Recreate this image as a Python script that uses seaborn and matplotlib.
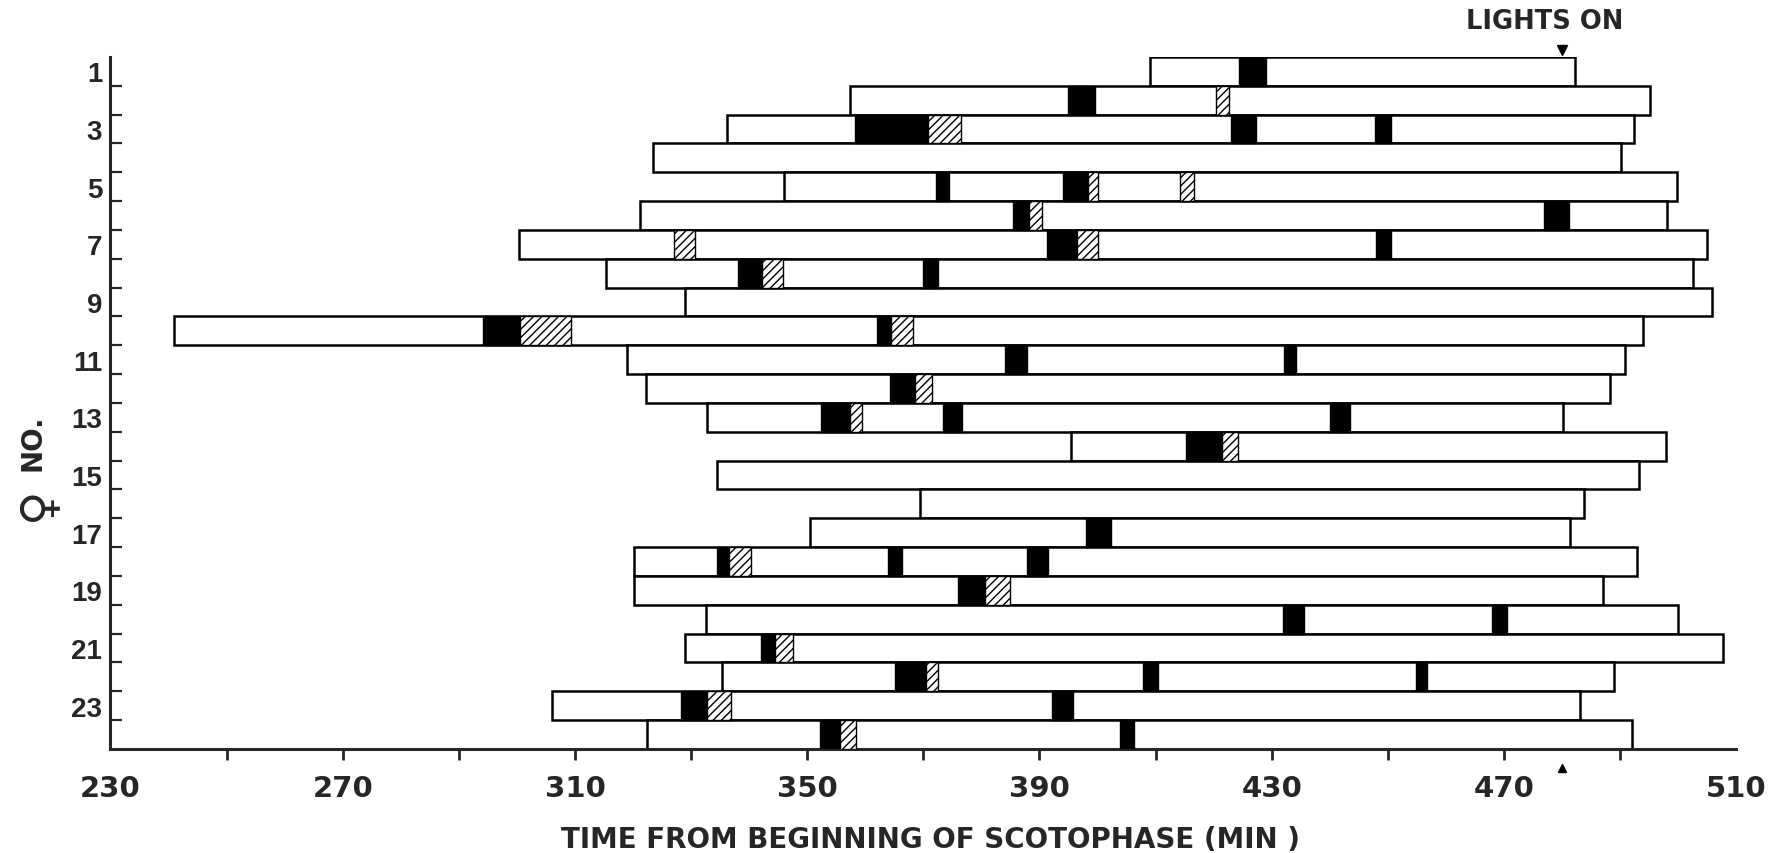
import matplotlib.pyplot as plt
import seaborn as sns
import pandas as pd

# female number and start / end of observation (min from beginning of scotophase)
female = list(range(1, 25))
obs_start = [409.0, 357.3, 336.1, 323.5, 346.0, 321.2, 300.3, 315.4, 329.0, 241.0,
             318.9, 322.3, 332.7, 395.5, 334.4, 369.4, 350.5, 320.2, 320.2, 332.5,
             329.0, 335.3, 306.1, 322.4]
obs_end = [482.2, 495.1, 492.4, 490.2, 499.8, 498.0, 504.9, 502.5, 505.8, 494.0,
           490.9, 488.3, 480.2, 497.9, 493.2, 483.8, 481.4, 492.9, 487.0, 499.9,
           507.7, 488.9, 483.1, 492.1]

# solid black blocks, per female
solid = [
    [(424.3, 429.1)],
    [(394.9, 399.5)],
    [(358.2, 370.8), (423.0, 427.3), (447.8, 450.6)],
    [],
    [(372.1, 374.4), (394.1, 398.4)],
    [(385.5, 388.2), (476.9, 481.2)],
    [(391.3, 396.4), (447.9, 450.5)],
    [(338.0, 342.2), (370.0, 372.6)],
    [],
    [(294.2, 300.6), (362.0, 364.4)],
    [(384.1, 387.9), (432.1, 434.2)],
    [(364.2, 368.5)],
    [(352.3, 357.4), (373.4, 376.6), (440.1, 443.5)],
    [(415.2, 421.4)],
    [],
    [],
    [(398.0, 402.4)],
    [(334.4, 336.5), (363.9, 366.4), (387.9, 391.4)],
    [(376.0, 380.6)],
    [(432.0, 435.5), (468.0, 470.6)],
    [(342.1, 344.5)],
    [(365.1, 370.5), (407.8, 410.4), (454.9, 456.7)],
    [(328.2, 332.8), (392.1, 395.7)],
    [(352.2, 355.6), (403.8, 406.2)],
]

# hatched blocks, per female
hatched = [
    [],
    [(420.4, 422.7)],
    [(370.8, 376.5)],
    [],
    [(398.4, 400.1), (414.2, 416.6)],
    [(388.2, 390.5)],
    [(327.1, 330.7), (396.4, 400.1)],
    [(342.2, 345.8)],
    [],
    [(300.6, 309.4), (364.4, 368.3)],
    [],
    [(368.5, 371.5)],
    [(357.4, 359.4)],
    [(421.4, 424.2)],
    [],
    [],
    [],
    [(336.5, 340.4)],
    [(380.6, 385.0)],
    [],
    [(344.5, 347.5)],
    [(370.5, 372.5)],
    [(332.8, 336.8)],
    [(355.6, 358.4)],
]

x_labels = [230, 270, 310, 350, 390, 430, 470, 510]
x_minor = [250, 270, 290, 310, 330, 350, 370, 390, 410, 430, 450, 470, 490]
lights_on = 480

sns.set_style('ticks')
plt.rcParams['font.family'] = ['DejaVu Sans']
plt.rcParams['hatch.linewidth'] = 1.0

fig = plt.figure(figsize=(17.82, 8.54), dpi=100)
ax = fig.add_axes([0.0620, 0.1218, 0.9123, 0.8103])

df = pd.DataFrame({'female': female,
                   'duration': [e - s for s, e in zip(obs_start, obs_end)]})
sns.barplot(data=df, x='duration', y='female', orient='y', native_scale=True,
            width=1.0, left=obs_start, color='white', saturation=1,
            edgecolor='black', linewidth=1.8, errorbar=None, ax=ax, zorder=2)

# blocks inside the bars
for i, f in enumerate(female):
    for a, b in solid[i]:
        ax.barh(f, b - a, left=a, height=1.0, color='black',
                edgecolor='black', linewidth=1.0, zorder=3)
    for a, b in hatched[i]:
        ax.barh(f, b - a, left=a, height=1.0, facecolor='white',
                edgecolor='black', hatch='////', linewidth=1.0, zorder=3)

ax.set_xlim(230, 510)
ax.set_ylim(24.5, 0.5)

sns.despine(ax=ax)
for side in ['left', 'bottom']:
    ax.spines[side].set_linewidth(2.2)

ax.xaxis.remove_overlapping_locs = False
ax.set_xticks(x_labels)
ax.set_xticklabels([str(v) for v in x_labels], fontsize=21, fontweight='bold')
ax.set_xticks(x_minor, minor=True)
ax.tick_params(axis='x', which='major', length=0, pad=18)
ax.tick_params(axis='x', which='minor', length=8, width=2, direction='out')

ax.set_yticks(female[::2])
ax.set_yticklabels([str(v) for v in female[::2]], fontsize=20, fontweight='bold',
                   family=['Liberation Sans', 'DejaVu Sans'])
ax.set_yticks([f + 0.5 for f in female[:-1]], minor=True)
ax.tick_params(axis='y', which='major', length=0, pad=6)
ax.tick_params(axis='y', which='minor', length=8.5, width=1.6, direction='in')

ax.set_xlabel('')
ax.set_ylabel('')
ax.grid(False)

# lights-on markers
ax.plot([lights_on], [0.27], marker='v', color='black', markersize=7,
        clip_on=False, zorder=5)
ax.plot([lights_on], [25.15], marker='^', color='black', markersize=6,
        clip_on=False, zorder=5)
ax.text(477, -0.75, 'LIGHTS ON', ha='center', va='center', fontsize=18.5,
        fontweight='bold', clip_on=False)

fig.text(0.522, 0.016, 'TIME FROM BEGINNING OF SCOTOPHASE (MIN )', ha='center',
         va='center', fontsize=20, fontweight='bold')
fig.text(0.0185, 0.482, 'NO.', rotation=90, ha='center', va='center',
         fontsize=20, fontweight='bold')
fig.text(0.0215, 0.41, '\u2640', rotation=90, ha='center', va='center',
         fontsize=34)

fig.savefig('out.png', dpi=100)
